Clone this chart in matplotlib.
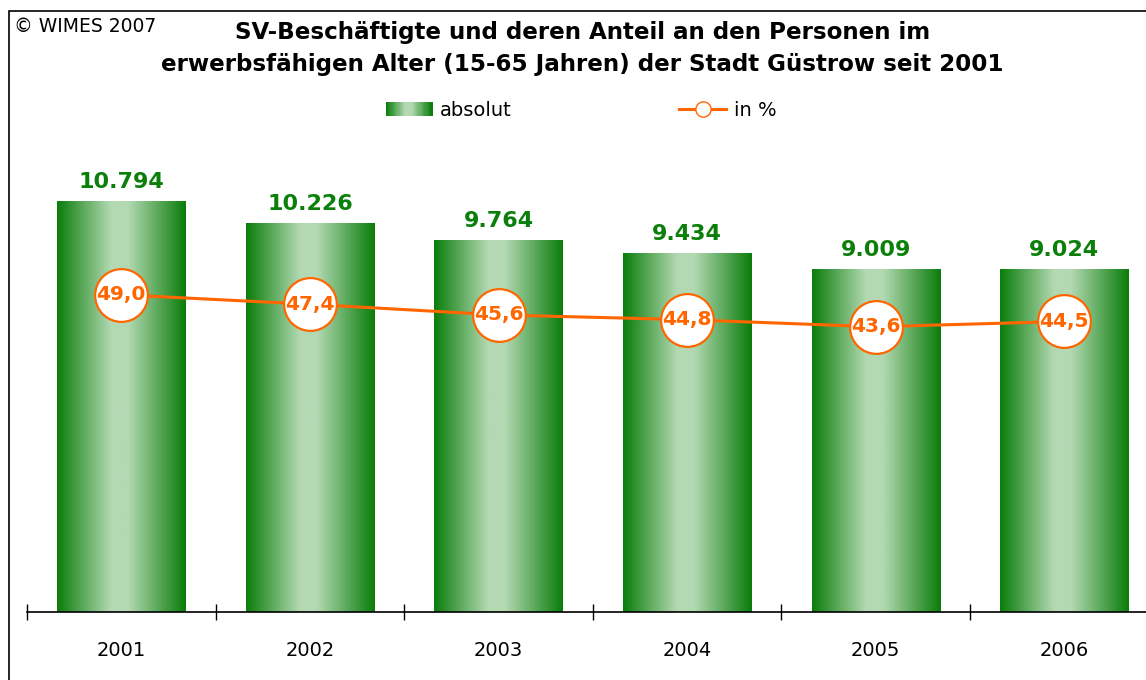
import numpy as np
import matplotlib.pyplot as plt
from matplotlib.colors import LinearSegmentedColormap
from matplotlib.patches import Rectangle
from matplotlib.lines import Line2D
from matplotlib.legend_handler import HandlerBase

# data
years = ["2001", "2002", "2003", "2004", "2005", "2006"]
absolut = [10794, 10226, 9764, 9434, 9009, 9024]
anteil = [49.0, 47.4, 45.6, 44.8, 43.6, 44.5]

green_dark = "#0a7d0a"
green_light = "#b3d9b3"
orange = "#ff6600"
green_cmap = LinearSegmentedColormap.from_list(
    "bar", [(0, green_dark), (0.42, green_light), (0.55, green_light), (1, green_dark)])

plt.rcParams["font.family"] = ["DejaVu Sans"]

fig = plt.figure(figsize=(11.46, 6.8), dpi=100)

# border around the chart area
fig.patches.append(Rectangle((9 / 1146, -0.1), 1.2, 1 - 11 / 680 + 0.1,
                             transform=fig.transFigure, fill=False,
                             edgecolor="black", linewidth=1.2))

# axes: x-axis at y=612 px, top at 156 px, left tick at 27 px, category width ~188.6 px
left = 27 / 1146
width = 6 * 188.6 / 1146
bottom = 1 - 612 / 680
height = (612 - 156) / 680
ax = fig.add_axes([left, bottom, width, height])
ax2 = ax.twinx()

x = np.arange(len(years))
bw = 0.68
bars = ax.bar(x, absolut, width=bw, color="none", edgecolor="none")
grad = np.linspace(0, 1, 256).reshape(1, -1)
for b in bars:
    ax.imshow(grad, cmap=green_cmap, aspect="auto", zorder=2,
              extent=[b.get_x(), b.get_x() + b.get_width(), 0, b.get_height()])
    ax.text(b.get_x() + b.get_width() / 2, b.get_height() + 250,
            f"{int(b.get_height()):,}".replace(",", "."),
            ha="center", va="bottom", fontsize=16, fontweight="bold", color="#0a800a")

ax.set_xlim(-0.5, len(years) - 0.5)
ax.set_ylim(0, 12000)
ax.set_xticks(x)
ax.set_xticklabels(years, fontsize=14)
ax.tick_params(axis="x", which="major", length=0, pad=21)
ax.set_xticks(np.arange(-0.5, len(years), 1), minor=True)
ax.tick_params(axis="x", which="minor", direction="inout", length=11, width=1)
ax.set_yticks([])
for s in ["top", "right", "left"]:
    ax.spines[s].set_visible(False)
ax.spines["bottom"].set_linewidth(1.2)

ax2.plot(x, anteil, color=orange, linewidth=2.2, marker="o", markersize=38,
         markerfacecolor="white", markeredgecolor=orange, markeredgewidth=1.6, zorder=3)
for xi, v in zip(x, anteil):
    ax2.text(xi, v, f"{v:.1f}".replace(".", ","), ha="center", va="center",
             fontsize=14.5, fontweight="bold", color=orange, zorder=4)
ax2.set_ylim(-4.5, 72.4)
ax2.set_yticks([])
for s in ax2.spines.values():
    s.set_visible(False)

# title and copyright
fig.text(0.508, 1 - 33 / 680, "SV-Beschäftigte und deren Anteil an den Personen im",
         ha="center", va="center", fontsize=16.6, fontweight="bold")
fig.text(0.508, 1 - 65 / 680, "erwerbsfähigen Alter (15-65 Jahren) der Stadt Güstrow seit 2001",
         ha="center", va="center", fontsize=16.6, fontweight="bold")
fig.text(14 / 1146, 1 - 26 / 680, "© WIMES 2007", ha="left", va="center", fontsize=13.5)


class GradientHandler(HandlerBase):
    def create_artists(self, legend, orig_handle, xdescent, ydescent,
                       width, height, fontsize, trans):
        n = 40
        arts = []
        for i in range(n):
            r = Rectangle((-xdescent + width * i / n, -ydescent), width / n + 0.3, height,
                          facecolor=green_cmap(i / (n - 1)), edgecolor="none",
                          transform=trans)
            arts.append(r)
        return arts


bar_handle = Rectangle((0, 0), 1, 1)
line_handle = Line2D([], [], color=orange, linewidth=2.2, marker="o", markersize=11,
                     markerfacecolor="white", markeredgecolor=orange)
fig.legend([bar_handle, line_handle], ["absolut", "in %"],
           handler_map={Rectangle: GradientHandler()},
           loc="center", bbox_to_anchor=(0.507, 1 - 110 / 680), ncol=2,
           frameon=False, fontsize=14, handlelength=2.4, handletextpad=0.4,
           columnspacing=8.6)

fig.savefig("out.png", dpi=100)
